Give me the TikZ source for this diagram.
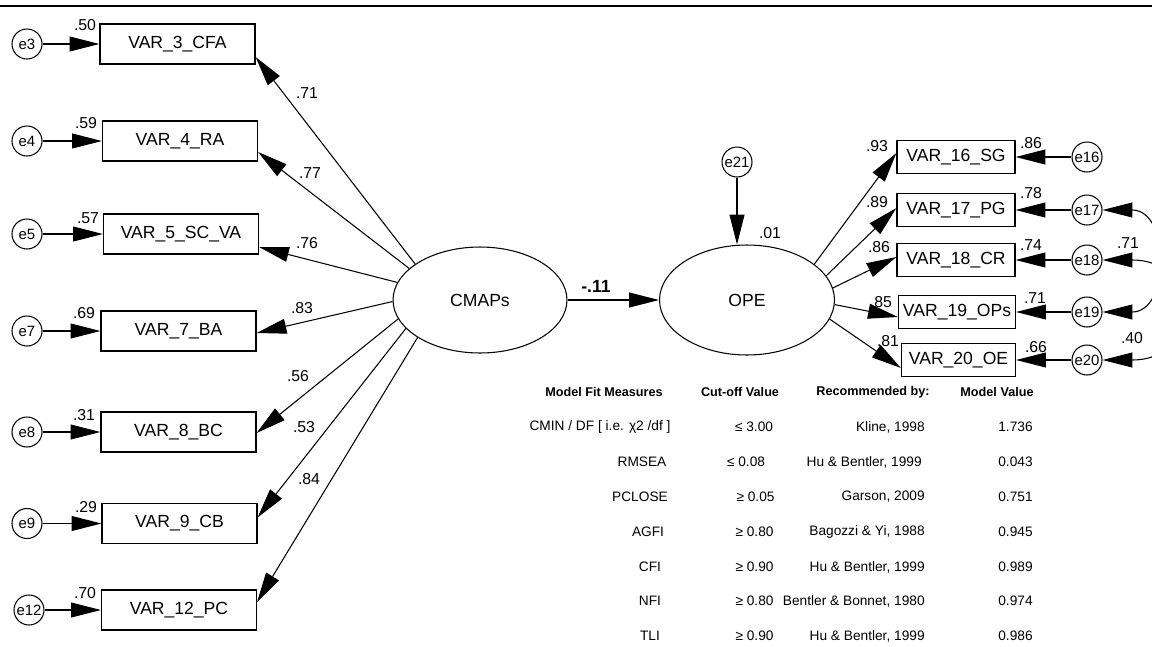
\documentclass[tikz,border=0pt]{standalone}
\usepackage{fontspec}
\setmainfont{Liberation Sans}
\usetikzlibrary{shapes.geometric,arrows.meta,calc}
\begin{document}
\begin{tikzpicture}[x=0.02cm,y=-0.02cm,
  obs/.style={draw, line width=0.7pt, minimum width=3.1cm, minimum height=0.8cm, inner sep=0pt, font=\fontsize{10}{12}\selectfont},
  robs/.style={obs, minimum width=2.36cm, minimum height=0.66cm},
  err/.style={draw, circle, minimum size=0.6cm, inner sep=0pt, line width=0.6pt, font=\fontsize{8.5}{10}\selectfont},
  lat/.style={draw, ellipse, inner sep=0pt, line width=0.6pt, font=\fontsize{10}{12}\selectfont},
  lbl/.style={inner sep=0pt, font=\fontsize{9}{10}\selectfont},
  arr/.style={-{Triangle[length=17pt,width=8.5pt]}, line width=0.6pt},
  cov/.style={{Triangle[length=17pt,width=8.5pt]}-{Triangle[length=17pt,width=8.5pt]}, line width=0.6pt},
  th/.style={inner sep=0pt, font=\bfseries\fontsize{7.2}{9}\selectfont},
  td/.style={inner sep=0pt, font=\fontsize{7.8}{9}\selectfont}]
\useasboundingbox (0,0) rectangle (1152,646);
\clip (0,0) rectangle (1152,646);
% top rule
\coordinate (rl) at (0,6);
\coordinate (rr) at (1152,6);
\draw[line width=1.3pt] (rl) -- (rr);

% latent variables
\node[lat, minimum width=3.48cm, minimum height=2.12cm] (cmaps) at (480,300) {CMAPs};
\node[lat, minimum width=3.5cm, minimum height=2.2cm] (ope) at (747,300) {OPE};
\draw[arr] (cmaps.east) -- (ope.west);
\node[inner sep=0pt, font=\bfseries\fontsize{10}{12}\selectfont] (lcm) at (596,286) {-.11};
\node[err] (e21) at (737,162) {e21};
\draw[arr] (e21.south) -- (e21.south |- ope.north);
\node[lbl] (l01) at (770,233) {.01};

% left indicators
\node[obs] (v3) at (177.5,44) {VAR\_3\_CFA};
\node[obs] (v4) at (180,141) {VAR\_4\_RA};
\node[obs] (v5) at (181,234) {VAR\_5\_SC\_VA};
\node[obs] (v7) at (178.5,331) {VAR\_7\_BA};
\node[obs] (v8) at (178.5,432) {VAR\_8\_BC};
\node[obs] (v9) at (179.5,523.5) {VAR\_9\_CB};
\node[obs] (v12) at (179,610) {VAR\_12\_PC};

\node[err] (e3) at (27,44) {e3};
\node[err] (e4) at (27,141) {e4};
\node[err] (e5) at (27,234) {e5};
\node[err] (e7) at (27,331) {e7};
\node[err] (e8) at (27,432) {e8};
\node[err] (e9) at (27,523.5) {e9};
\node[err] (e12) at (29,610) {e12};

\draw[arr] (e3) -- (v3);
\draw[arr] (e4) -- (v4);
\draw[arr] (e5) -- (v5);
\draw[arr] (e7) -- (v7);
\draw[arr] (e8) -- (v8);
\draw[arr] (e9) -- (v9);
\draw[arr] (e12) -- (v12);

\node[lbl] (r3) at (85,25) {.50};
\node[lbl] (r4) at (86,123) {.59};
\node[lbl] (r5) at (88,218) {.57};
\node[lbl] (r7) at (84,313) {.69};
\node[lbl] (r8) at (84,415) {.31};
\node[lbl] (r9) at (86,507) {.29};
\node[lbl] (r12) at (85,593) {.70};

\draw[arr] (cmaps.151) -- ($(v3.east)+(0,13)$);
\draw[arr] (cmaps.156) -- ($(v4.east)+(0,11)$);
\draw[arr] (cmaps.168) -- ($(v5.east)+(0,13)$);
\draw[arr] (cmaps.181) -- ($(v7.east)+(0,2)$);
\draw[arr] (cmaps.193) -- ($(v8.east)+(0,1)$);
\draw[arr] (cmaps.201) -- ($(v9.east)+(0,-6)$);
\draw[arr] (cmaps.211) -- ($(v12.east)+(0,-8)$);

\node[lbl] (k3) at (307,93) {.71};
\node[lbl] (k4) at (310,173) {.77};
\node[lbl] (k5) at (307,243) {.76};
\node[lbl] (k7) at (302,308) {.83};
\node[lbl] (k8) at (298,376) {.56};
\node[lbl] (k9) at (304,427) {.53};
\node[lbl] (k12) at (309,479) {.84};

% right indicators
\node[robs] (v16) at (956,157) {VAR\_16\_SG};
\node[robs] (v17) at (956,210) {VAR\_17\_PG};
\node[robs] (v18) at (956,260) {VAR\_18\_CR};
\node[robs, minimum width=2.34cm] (v19) at (957,312) {VAR\_19\_OPs};
\node[robs, minimum width=2.28cm] (v20) at (958.5,360) {VAR\_20\_OE};

\node[err] (e16) at (1087,157) {e16};
\node[err] (e17) at (1087,210) {e17};
\node[err] (e18) at (1087,260) {e18};
\node[err] (e19) at (1087,312) {e19};
\node[err] (e20) at (1087,360) {e20};

\draw[arr] (e16) -- (v16);
\draw[arr] (e17) -- (v17);
\draw[arr] (e18) -- (v18);
\draw[arr] (e19) -- (v19);
\draw[arr] (e20) -- (v20);

\node[lbl] (r16) at (1031,143) {.86};
\node[lbl] (r17) at (1031,193) {.78};
\node[lbl] (r18) at (1031,245) {.74};
\node[lbl] (r19) at (1035,298) {.71};
\node[lbl] (r20) at (1036,347) {.66};

\draw[arr] (ope.28) -- ($(v16.west)+(0,-4)$);
\draw[arr] (ope.17) -- ($(v17.west)+(0,-2)$);
\draw[arr] (ope.8) -- ($(v18.west)+(0,-3)$);
\draw[arr] (ope.-3) -- ($(v19.west)+(0,5)$);
\draw[arr] (ope.-13.5) -- ($(v20.west)+(0,8)$);

\node[lbl] (k16) at (877,146) {.93};
\node[lbl] (k17) at (877,202) {.89};
\node[lbl] (k18) at (879,247) {.86};
\node[lbl] (k19) at (881,302) {.85};
\node[lbl] (k20) at (888,341) {.81};

% covariances
\draw[cov] (e17.east) .. controls +(68,0) and +(68,0) .. (e19.east);
\draw[cov] (e18.east) .. controls +(100,0) and +(100,0) .. (e20.east);
\node[lbl] (c1719) at (1128,243) {.71};
\node[lbl] (c1820) at (1132,338) {.40};

% fit table
\node[th] (h1) at (604,392) {Model Fit Measures};
\node[th] (h2) at (740,392) {Cut-off Value};
\node[th] (h3) at (873,392) {Recommended by:};
\node[th] (h4) at (997,392) {Model Value};

\node[td] (a1) at (600,427) {CMIN / DF [ i.e. χ2 /df ]};
\node[td] (a2) at (642,462) {RMSEA};
\node[td] (a3) at (640,497) {PCLOSE};
\node[td] (a4) at (648,532) {AGFI};
\node[td] (a5) at (650,567) {CFI};
\node[td] (a6) at (650,601) {NFI};
\node[td] (a7) at (650,636) {TLI};

\node[td] (b1) at (754,427) {≤ 3.00};
\node[td] (b2) at (746,462) {≤ 0.08};
\node[td] (b3) at (755.5,497) {≥ 0.05};
\node[td] (b4) at (754.5,532) {≥ 0.80};
\node[td] (b5) at (754.5,567) {≥ 0.90};
\node[td] (b6) at (754.5,601) {≥ 0.80};
\node[td] (b7) at (754.5,636) {≥ 0.90};

\node[td, anchor=east] (c1) at (925,427) {Kline, 1998};
\node[td, anchor=east] (c2) at (922,462) {Hu \& Bentler, 1999};
\node[td, anchor=east] (c3) at (925,497) {Garson, 2009};
\node[td, anchor=east] (c4) at (925,532) {Bagozzi \& Yi, 1988};
\node[td, anchor=east] (c5) at (925,567) {Hu \& Bentler, 1999};
\node[td, anchor=east] (c6) at (925,601) {Bentler \& Bonnet, 1980};
\node[td, anchor=east] (c7) at (925,636) {Hu \& Bentler, 1999};

\node[td, anchor=east] (d1) at (1033,427) {1.736};
\node[td, anchor=east] (d2) at (1033,462) {0.043};
\node[td, anchor=east] (d3) at (1033,497) {0.751};
\node[td, anchor=east] (d4) at (1033,532) {0.945};
\node[td, anchor=east] (d5) at (1033,567) {0.989};
\node[td, anchor=east] (d6) at (1033,601) {0.974};
\node[td, anchor=east] (d7) at (1033,636) {0.986};
\end{tikzpicture}
\end{document}
